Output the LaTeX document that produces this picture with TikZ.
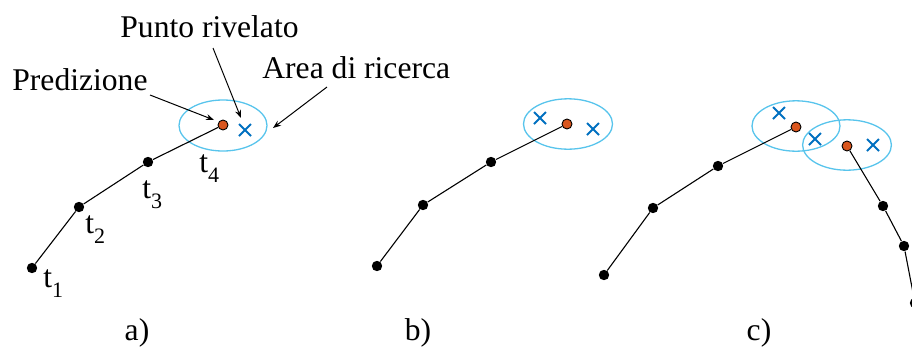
\documentclass[tikz,border=0pt]{standalone}
\usepackage{fontspec}
\setmainfont{Liberation Serif}
\usetikzlibrary{arrows.meta,shapes.misc}
\definecolor{predorange}{RGB}{218,86,30}
\definecolor{crossblue}{RGB}{0,112,192}
\definecolor{arealine}{RGB}{88,196,236}
\tikzset{
  bdot/.style={circle,fill=black,inner sep=0pt,minimum size=5.2pt},
  pdot/.style={circle,draw=black,fill=predorange,line width=0.45pt,inner sep=0pt,minimum size=5pt},
  xmark/.style={cross out,draw=crossblue,line width=1pt,inner sep=0pt,minimum size=5pt},
  track/.style={line width=0.55pt,black},
  searcharea/.style={draw=arealine,line width=0.65pt},
  lbl/.style={font=\fontsize{15.8pt}{18pt}\selectfont,inner sep=0pt},
  tlbl/.style={font=\fontsize{15.8pt}{18pt}\selectfont,inner sep=0pt,anchor=base west},
  pointer/.style={line width=0.5pt,-{Stealth[length=4pt,width=3pt]}}
}
\newcommand{\tsub}[1]{t\raisebox{-0.32em}{\fontsize{11pt}{12pt}\selectfont #1}}
\begin{document}
\begin{tikzpicture}[x=0.5pt,y=-0.5pt]
\clip (0,0) rectangle (912,349);
% ---------- panel a ----------
\draw[searcharea] (223,125.5) ellipse [x radius=22pt, y radius=12.75pt];
\node[bdot] (a1) at (32,268) {};
\node[bdot] (a2) at (79,207) {};
\node[bdot] (a3) at (148,162) {};
\node[pdot] (a4) at (223,125) {};
\node[xmark] (ax) at (245,130) {};
\draw[track] (a1) -- (a2) -- (a3) -- (a4);
\node[tlbl] (lt1) at (43,287) {\tsub{1}};
\node[tlbl] (lt2) at (85,233) {\tsub{2}};
\node[tlbl] (lt3) at (142,198) {\tsub{3}};
\node[tlbl] (lt4) at (199,172) {\tsub{4}};
\node[lbl,anchor=base west] (punto) at (120,37) {Punto rivelato};
\node[lbl,anchor=base west] (pred) at (12,90) {Predizione};
\node[lbl,anchor=base west] (area) at (262,78) {Area di ricerca};
\coordinate (ps) at (150,95);
\coordinate (pe) at (214,120);
\coordinate (rs) at (213,48);
\coordinate (re) at (241,118);
\coordinate (as) at (327,87);
\coordinate (ae) at (273,128);
\draw[pointer] (ps) -- (pe);
\draw[pointer] (rs) -- (re);
\draw[pointer] (as) -- (ae);
\node[lbl,anchor=base] (la) at (137,340) {a)};
% ---------- panel b ----------
\draw[searcharea] (568,124) ellipse [x radius=22.25pt, y radius=12.6pt];
\node[bdot] (b1) at (377,266) {};
\node[bdot] (b2) at (423,205) {};
\node[bdot] (b3) at (491,162) {};
\node[pdot] (b4) at (567,124) {};
\node[xmark] (bx1) at (540,118) {};
\node[xmark] (bx2) at (593,129) {};
\draw[track] (b1) -- (b2) -- (b3) -- (b4);
\node[lbl,anchor=base] (lb) at (418,340) {b)};
% ---------- panel c ----------
\draw[searcharea] (796,126) ellipse [x radius=22pt, y radius=12.6pt];
\draw[searcharea] (847,145) ellipse [x radius=22.2pt, y radius=12.6pt];
\node[bdot] (c1) at (604,275) {};
\node[bdot] (c2) at (653,208) {};
\node[bdot] (c3) at (718,166) {};
\node[pdot] (c4) at (796,127) {};
\node[xmark] (cx1) at (779,113) {};
\node[xmark] (cx2) at (815,139) {};
\node[xmark] (cx3) at (873,145) {};
\node[pdot] (d1) at (847,146) {};
\node[bdot] (d2) at (883,206) {};
\node[bdot] (d3) at (904,246) {};
\node[bdot] (d4) at (915,303) {};
\draw[track] (c1) -- (c2) -- (c3) -- (c4);
\draw[track] (d1) -- (d2) -- (d3) -- (d4);
\node[lbl,anchor=base] (lc) at (759,340) {c)};
\end{tikzpicture}
\end{document}
